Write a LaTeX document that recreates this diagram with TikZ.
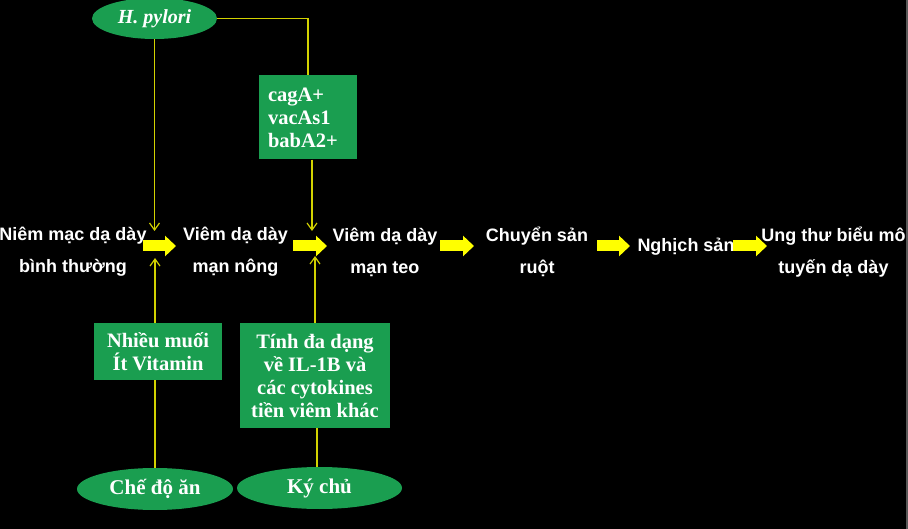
\documentclass[tikz,border=0pt]{standalone}
\usepackage{fontspec}
\setmainfont{Liberation Serif}
\setsansfont{Liberation Sans}
\usetikzlibrary{arrows.meta,shapes.geometric}
\definecolor{boxgreen}{RGB}{26,158,80}
\definecolor{thinyellow}{RGB}{210,210,0}
\definecolor{bigyellow}{RGB}{255,255,0}
\tikzset{
  stage/.style={text=white, align=center, font=\sffamily\bfseries\fontsize{18}{32}\selectfont, inner sep=0pt},
  greenbox/.style={fill=boxgreen, text=white, font=\rmfamily\bfseries\fontsize{20.5}{23}\selectfont, inner sep=0pt},
  greenoval/.style={ellipse, fill=boxgreen, text=white, font=\rmfamily\bfseries\fontsize{21}{24}\selectfont, inner sep=0pt},
  thinline/.style={draw=thinyellow, line width=1.3pt},
  thinarrow/.style={thinline, -{Straight Barb[length=7pt,width=10pt,line width=1.2pt]}},
  bigarrow/.style={draw=bigyellow, line width=11pt, -{Triangle[length=11pt,width=20pt]}}
}
\begin{document}
\begin{tikzpicture}[x=1pt,y=-1pt]
\useasboundingbox (0,0) rectangle (908,529);
\fill[black] (0,0) rectangle (908,529);
\fill[black!65] (905.5,0) rectangle (908,529);

% top
\node[greenoval, minimum width=125, minimum height=41, font=\rmfamily\bfseries\itshape\fontsize{20}{24}\selectfont] (hp) at (154.5,18.5) {H. pylori};
\node[greenbox, minimum width=98, minimum height=84, text width=80, align=left, inner xsep=9] (cag) at (308,117.5) {cagA+\\vacAs1\\babA2+};

% stages
\node[stage] (s1) at (73,252) {Niêm mạc dạ dày\\bình thường};
\node[stage] (s2) at (235.5,252) {Viêm dạ dày\\mạn nông};
\node[stage] (s3) at (385,252) {Viêm dạ dày\\mạn teo};
\node[stage] (s4) at (537,252) {Chuyển sản\\ruột};
\node[stage] (s5) at (686,246.5) {Nghịch sản};
\node[stage] (s6) at (833.5,252) {Ung thư biểu mô\\tuyến dạ dày};

% bottom boxes
\node[greenbox, minimum width=128, minimum height=57, align=center] (nm) at (158,351.5) {Nhiều muối\\Ít Vitamin};
\node[greenbox, minimum width=150, minimum height=105, align=center] (td) at (315,375.5) {Tính đa dạng\\về IL-1B và\\các cytokines\\tiền viêm khác};
\node[greenoval, minimum width=156, minimum height=42] (cd) at (155,489) {Chế độ ăn};
\node[greenoval, minimum width=165, minimum height=42] (kc) at (319.5,488) {Ký chủ};

% big arrows
\coordinate (a1s) at (143,246); \coordinate (a1e) at (176,246);
\coordinate (a2s) at (293,246); \coordinate (a2e) at (327,246);
\coordinate (a3s) at (440,246); \coordinate (a3e) at (474,246);
\coordinate (a4s) at (597,246); \coordinate (a4e) at (630,246);
\coordinate (a5s) at (733,246); \coordinate (a5e) at (767,246);
\draw[bigarrow] (a1s) -- (a1e);
\draw[bigarrow] (a2s) -- (a2e);
\draw[bigarrow] (a3s) -- (a3e);
\draw[bigarrow] (a4s) -- (a4e);
\draw[bigarrow] (a5s) -- (a5e);

% thin connectors
\coordinate (t1) at (154.5,231);
\coordinate (t2) at (312,231);
\coordinate (t3) at (155,258);
\coordinate (t4) at (315,256);
\draw[thinline] (hp.east) -| (cag.north);
\draw[thinarrow] (hp.south) -- (t1);
\draw[thinarrow] (cag.south -| t2) -- (t2);
\draw[thinarrow] (nm.north -| t3) -- (t3);
\draw[thinarrow] (td.north -| t4) -- (t4);
\draw[thinline] (cd.north) -- (cd.north |- nm.south);
\draw[thinline] (kc.north -| 317,0) -- (td.south -| 317,0);
\end{tikzpicture}
\end{document}
